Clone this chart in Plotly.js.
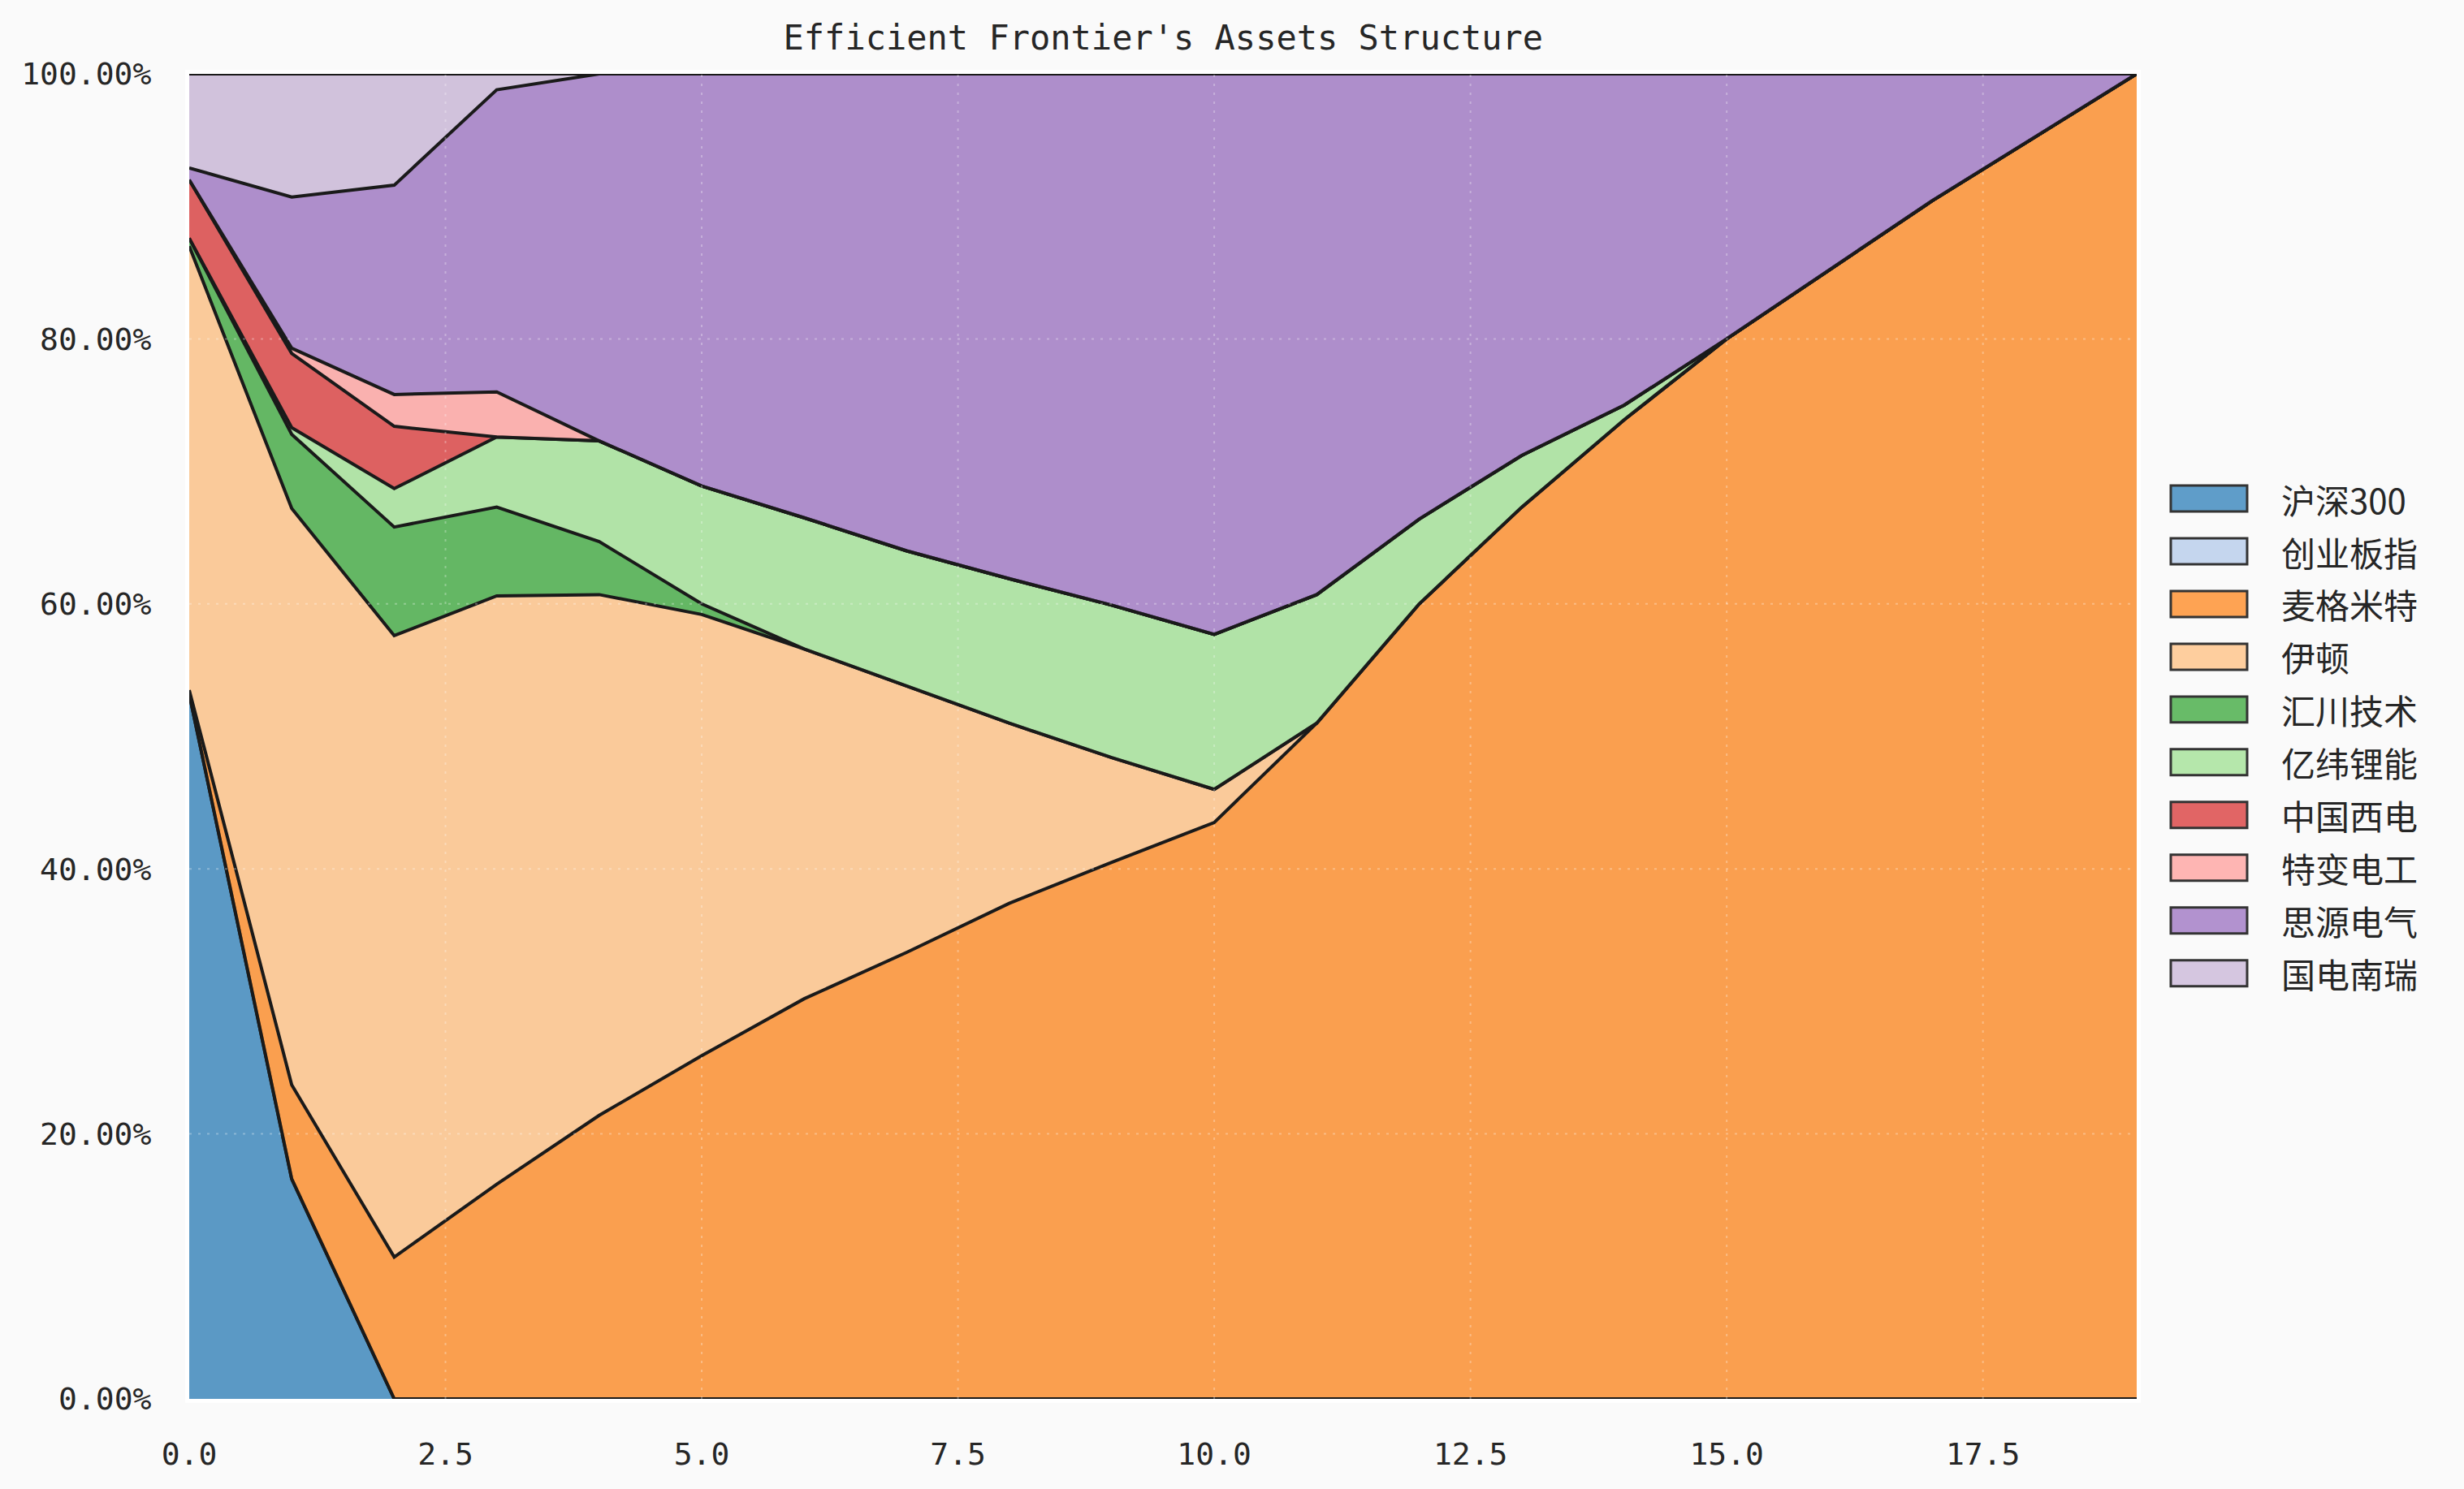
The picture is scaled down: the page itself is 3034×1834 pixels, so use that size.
<!DOCTYPE html>
<html>
<head>
<meta charset="utf-8">
<script src="https://cdn.plot.ly/plotly-3.0.1.min.js"></script>
<style>
  html, body { margin: 0; padding: 0; background: #fafafa; }
</style>
</head>
<body>
<div id="chart"></div>
<script>
/***********
  DATA
************/

// Points along the frontier (x axis)
let points = [0, 1, 2, 3, 4, 5, 6, 7, 8, 9, 10, 11, 12, 13, 14, 15, 16, 17, 18, 19];

// Asset names, stacked bottom to top
let assets = ["沪深300", "创业板指", "麦格米特", "伊顿", "汇川技术", "亿纬锂能", "中国西电", "特变电工", "思源电气", "国电南瑞"];

// Weights in percent
let hs300   = [53.2, 16.6, 0, 0, 0, 0, 0, 0, 0, 0, 0, 0, 0, 0, 0, 0, 0, 0, 0, 0];
let cybz    = [0, 0, 0, 0, 0, 0, 0, 0, 0, 0, 0, 0, 0, 0, 0, 0, 0, 0, 0, 0];
let mgmt    = [0.3, 7.1, 10.7, 16.2, 21.4, 25.9, 30.2, 33.7, 37.4, 40.5, 43.5, 51.0, 60.0, 67.3, 73.9, 80.0, 85.2, 90.4, 95.2, 100];
let eaton   = [33.5, 43.5, 46.9, 44.4, 39.3, 33.3, 26.4, 20.1, 13.6, 7.9, 2.5, 0, 0, 0, 0, 0, 0, 0, 0, 0];
let inovance= [0.6, 5.6, 8.2, 6.7, 4.0, 0.8, 0, 0, 0, 0, 0, 0, 0, 0, 0, 0, 0, 0, 0, 0];
let eve     = [0, 0.5, 2.9, 5.3, 7.6, 8.9, 9.9, 10.2, 10.9, 11.5, 11.7, 9.7, 6.4, 3.9, 1.1, 0, 0, 0, 0, 0];
let xidian  = [4.4, 5.6, 4.7, 0, 0, 0, 0, 0, 0, 0, 0, 0, 0, 0, 0, 0, 0, 0, 0, 0];
let tbea    = [0, 0.4, 2.4, 3.4, 0, 0, 0, 0, 0, 0, 0, 0, 0, 0, 0, 0, 0, 0, 0, 0];
let sieyuan = [0.9, 11.4, 15.8, 22.8, 27.7, 31.1, 33.5, 36.0, 38.1, 40.1, 42.3, 39.3, 33.6, 28.8, 25.0, 20.0, 14.8, 9.6, 4.8, 0];
let nari    = [7.1, 9.3, 8.4, 1.2, 0, 0, 0, 0, 0, 0, 0, 0, 0, 0, 0, 0, 0, 0, 0, 0];

let weights = [hs300, cybz, mgmt, eaton, inovance, eve, xidian, tbea, sieyuan, nari];

// Tick values
let xTicks = [0, 2.5, 5, 7.5, 10, 12.5, 15, 17.5];
let yTicks = [0, 20, 40, 60, 80, 100];

/***********
  STYLE
************/

let palette = ["31,119,180", "174,199,232", "255,127,14", "255,187,120", "44,160,44",
               "152,223,138", "214,39,40", "255,152,150", "148,103,189", "197,176,213"];
let fillAlpha = 0.71;
let monoFont = "'DejaVu Sans Mono', 'Noto Sans CJK SC', sans-serif";
let cjkFont = "'Noto Sans CJK SC', sans-serif";
let gridLine = { color: "rgba(255,255,255,0.3)", width: 2, dash: "3px,8px" };

/***********
  CHART
************/

function drawChart() {
  let traces = assets.map(function (name, i) {
    return {
      type: "scatter",
      mode: "lines",
      name: name,
      x: points,
      y: weights[i],
      stackgroup: "one",
      line: { color: "#1a1a1a", width: 4 },
      fillcolor: "rgba(" + palette[i] + "," + fillAlpha + ")",
      showlegend: false,
      hoverinfo: "skip"
    };
  });

  let shapes = [];
  let annotations = [];

  // dotted grid lines sit on top of the areas, like the original
  xTicks.slice(1).forEach(function (v) {
    shapes.push({ type: "line", layer: "above", xref: "x", yref: "paper",
                  x0: v, x1: v, y0: 0, y1: 1, line: gridLine });
  });
  yTicks.slice(1, -1).forEach(function (v) {
    shapes.push({ type: "line", layer: "above", xref: "paper", yref: "y",
                  x0: 0, x1: 1, y0: v, y1: v, line: gridLine });
  });

  // legend with wide patches, drawn next to the plot
  let legTop = 0.6795, legStep = 0.0398, patchHalf = 0.0098;
  assets.forEach(function (name, i) {
    let yc = legTop - i * legStep;
    shapes.push({ type: "rect", xref: "paper", yref: "paper",
                  x0: 1.0175, x1: 1.0567, y0: yc - patchHalf, y1: yc + patchHalf,
                  fillcolor: "rgba(" + palette[i] + "," + fillAlpha + ")",
                  line: { color: "#333333", width: 3 } });
    annotations.push({ xref: "paper", yref: "paper", x: 1.0734, y: yc,
                       xanchor: "left", yanchor: "middle", showarrow: false,
                       text: name, font: { family: cjkFont, size: 42, color: "#262626" } });
  });

  let layout = {
    width: 3034,
    height: 1834,
    autosize: false,
    paper_bgcolor: "#fafafa",
    plot_bgcolor: "#eeeeee",
    margin: { l: 233, r: 403, t: 91, b: 111 },
    font: { family: monoFont, color: "#262626", size: 38 },
    title: {
      text: "Efficient Frontier's Assets Structure",
      font: { family: monoFont, size: 42, color: "#262626" },
      x: 0.4721, xanchor: "center",
      y: 0.975, yanchor: "middle"
    },
    xaxis: {
      range: [0, 19],
      tickmode: "array",
      tickvals: xTicks,
      ticktext: xTicks.map(function (v) { return v.toFixed(1); }),
      showgrid: false,
      zeroline: false,
      showline: true, linecolor: "#ffffff", linewidth: 5, mirror: true,
      ticks: "",
      ticklabelstandoff: 30,
      tickfont: { family: monoFont, size: 38, color: "#262626" }
    },
    yaxis: {
      range: [0, 100],
      tickmode: "array",
      tickvals: yTicks,
      ticktext: yTicks.map(function (v) { return v.toFixed(2) + "%"; }),
      showgrid: false,
      zeroline: false,
      showline: true, linecolor: "#ffffff", linewidth: 5, mirror: true,
      ticks: "",
      ticklabelstandoff: 34,
      tickfont: { family: monoFont, size: 38, color: "#262626" }
    },
    showlegend: false,
    shapes: shapes,
    annotations: annotations
  };

  Plotly.newPlot("chart", traces, layout, { staticPlot: true, displayModeBar: false });
}

drawChart();
</script>
</body>
</html>
